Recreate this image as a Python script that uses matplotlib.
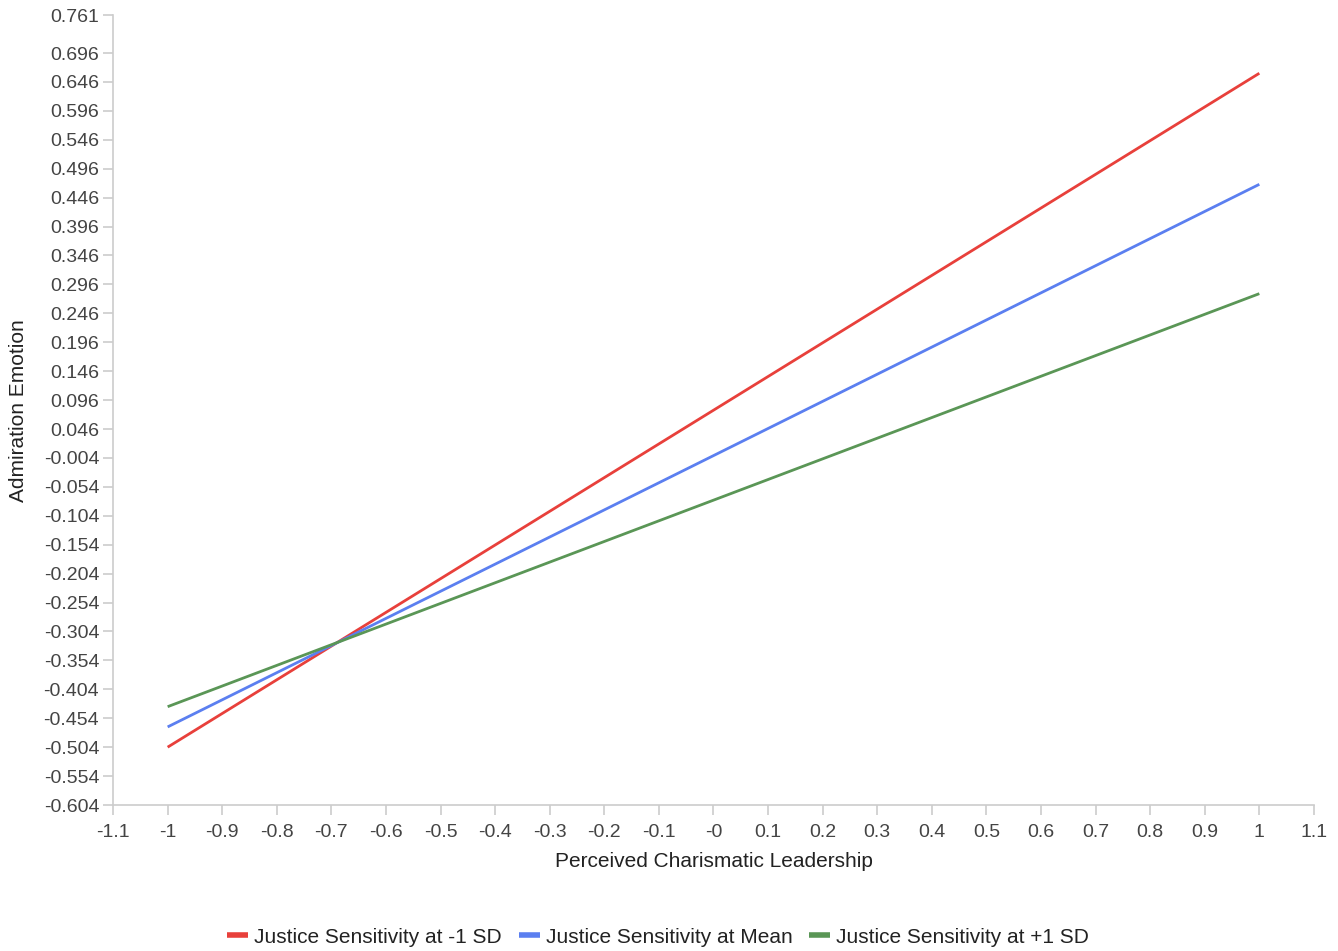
import matplotlib
matplotlib.use("Agg")
import matplotlib.pyplot as plt
import numpy as np

x_vals = [-1, 1]
series_names = ["Justice Sensitivity at -1 SD", "Justice Sensitivity at Mean", "Justice Sensitivity at +1 SD"]
red_vals = [-0.504, 0.661]
blue_vals = [-0.469, 0.469]
green_vals = [-0.434, 0.280]
colors = ["#e8403b", "#5b7ff0", "#5a9656"]

y_ticks = [round(-0.604 + 0.05 * i, 3) for i in range(27)] + [0.761]
x_ticks = [round(-1.1 + 0.1 * i, 1) for i in range(23)]

plt.rcParams['font.family'] = ['Liberation Sans', 'DejaVu Sans']
fig = plt.figure(figsize=(13.38, 9.51), dpi=100)
ax = fig.add_axes([0.0845, 0.1535, 0.8975, 0.8303])

for vals, c, name in zip([red_vals, blue_vals, green_vals], colors, series_names):
    ax.plot(x_vals, vals, color=c, lw=2.0, label=name, solid_capstyle='butt')

ax.set_xlim(-1.1, 1.1)
ax.set_ylim(-0.604, 0.761)
ax.set_yticks(y_ticks)
ax.set_yticklabels([f"{v:.3f}" for v in y_ticks])
ax.set_xticks(x_ticks)
def xl(v):
    if abs(v) < 1e-9:
        return "-0"
    s = f"{v:.1f}"
    if s.endswith(".0"):
        s = s[:-2]
    return s
ax.set_xticklabels([xl(v) for v in x_ticks])

for s in ["top", "right"]:
    ax.spines[s].set_visible(False)
for s in ["left", "bottom"]:
    ax.spines[s].set_color("#cccccc")
    ax.spines[s].set_linewidth(1.2)
ax.tick_params(axis='both', colors="#cccccc", labelcolor="#444444", labelsize=14, length=7, width=1.2)
ax.tick_params(axis='x', pad=7)
ax.tick_params(axis='y', pad=3)

ax.set_xlabel("Perceived Charismatic Leadership", fontsize=15, color="#222222", va='center')
ax.set_ylabel("Admiration Emotion", fontsize=15, color="#222222", va='center')
ax.xaxis.set_label_coords(0.5, -0.072)
ax.yaxis.set_label_coords(-0.079, 0.5)

leg = fig.legend(loc='center', bbox_to_anchor=(0.492, 0.0147), ncol=3, frameon=False,
                 fontsize=15, handlelength=1.0, handletextpad=0.3, columnspacing=0.8)
for h in leg.get_lines():
    h.set_linewidth(4)
for t in leg.get_texts():
    t.set_color("#222222")

fig.savefig("out.png", dpi=100)
